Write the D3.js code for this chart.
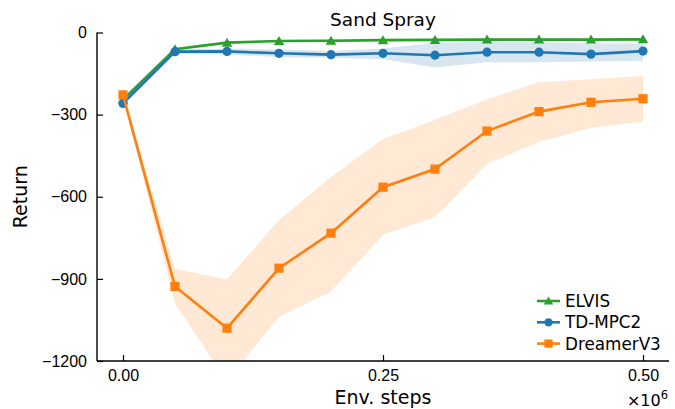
<!DOCTYPE html>
<html><head><meta charset="utf-8">
<script src="https://cdn.jsdelivr.net/npm/d3@7"></script>
<style>body{margin:0;background:#fff}svg{font-family:"DejaVu Sans",sans-serif}</style>
</head><body><svg id="c" width="675" height="409"></svg>
<script>
const steps = [0, 0.05e6, 0.1e6, 0.15e6, 0.2e6, 0.25e6, 0.3e6, 0.35e6, 0.4e6, 0.45e6, 0.5e6];
const elvisMean = [-245, -61, -37, -31, -30, -28, -27, -26, -26, -26, -25];
const elvisLo   = [-252, -66, -42, -35, -34, -32, -31, -30, -30, -30, -29];
const elvisHi   = [-238, -56, -32, -27, -26, -24, -23, -22, -22, -22, -21];
const tdMean = [-259, -70, -69, -76, -81, -76, -83, -72, -72, -79, -68];
const tdLo   = [-268, -78, -80, -90, -92, -98, -128, -109, -109, -106, -103];
const tdHi   = [-250, -62, -58, -62, -68, -58, -37, -34, -36, -40, -40];
const dvMean = [-228, -928, -1080, -861, -733, -565, -499, -360, -289, -255, -242];
const dvLo   = [-236, -990, -1275, -1038, -945, -740, -674, -480, -400, -348, -326];
const dvHi   = [-220, -863, -902, -685, -528, -389, -320, -244, -182, -171, -159];
const yTicks = [0, -300, -600, -900, -1200];
const xTicks = [0, 0.25e6, 0.5e6];
const xTickLabels = ["0.00", "0.25", "0.50"];

const svg = d3.select("#c");
const L = 97, R = 669, T = 32.5, B = 361;
const x = d3.scaleLinear().domain([-0.025e6, 0.525e6]).range([L, R]);
const y = d3.scaleLinear().domain([-1200, 0]).range([B, T]);

svg.append("defs").append("clipPath").attr("id","clip")
  .append("rect").attr("x",L).attr("y",T-10).attr("width",R-L).attr("height",B-T+10);

const series = [
  {name:"ELVIS", color:"#2ca02c", mean:elvisMean, lo:elvisLo, hi:elvisHi, marker:"tri"},
  {name:"TD-MPC2", color:"#1f77b4", mean:tdMean, lo:tdLo, hi:tdHi, marker:"circ"},
  {name:"DreamerV3", color:"#ff7f0e", mean:dvMean, lo:dvLo, hi:dvHi, marker:"sq"}
];

const g = svg.append("g").attr("clip-path","url(#clip)");
series.forEach(s => {
  const area = d3.area().x((d,i)=>x(steps[i])).y0((d,i)=>y(s.lo[i])).y1((d,i)=>y(s.hi[i]));
  g.append("path").datum(s.mean).attr("d", area).attr("fill", s.color).attr("fill-opacity", 0.18);
});

function drawMarker(sel, type, cx, cy, color, scale=1) {
  if (type === "tri") {
    const r = 5*scale;
    sel.append("path").attr("d", `M${cx},${cy-r}L${cx+r*1.05},${cy+r*0.8}L${cx-r*1.05},${cy+r*0.8}Z`).attr("fill", color);
  } else if (type === "circ") {
    sel.append("circle").attr("cx",cx).attr("cy",cy).attr("r",4.6*scale).attr("fill",color);
  } else {
    const h = 4.6*scale;
    sel.append("rect").attr("x",cx-h).attr("y",cy-h).attr("width",2*h).attr("height",2*h).attr("fill",color);
  }
}

series.forEach(s => {
  const line = d3.line().x((d,i)=>x(steps[i])).y(d=>y(d));
  g.append("path").datum(s.mean).attr("d", line).attr("fill","none").attr("stroke", s.color).attr("stroke-width", 2.6);
  s.mean.forEach((v,i) => drawMarker(g, s.marker, x(steps[i]), y(v), s.color));
});

// axes
const yAxis = d3.axisLeft(y).tickValues(yTicks).tickSize(-6).tickPadding(10).tickFormat(d => d3.format("d")(d).replace("-", "\u2212"));
const ya = svg.append("g").attr("transform", `translate(${L},0)`).call(yAxis);
const xAxis = d3.axisBottom(x).tickValues(xTicks).tickSize(-6).tickPadding(9).tickFormat((d,i)=>xTickLabels[i]);
const xa = svg.append("g").attr("transform", `translate(0,${B})`).call(xAxis);
[ya, xa].forEach(a => {
  a.select(".domain").attr("stroke","#000").attr("stroke-width",1.4);
  a.selectAll(".tick line").attr("stroke","#000").attr("stroke-width",1.2);
  a.selectAll(".tick text").attr("fill","#000").style("font-size","16px");
});
ya.select(".domain").attr("d", `M0,${T}V${B}`);
xa.select(".domain").attr("d", `M${L},0H${R}`);

svg.append("text").attr("x", (L+R)/2).attr("y", 26).attr("text-anchor","middle").style("font-size","18.5px").text("Sand Spray");
svg.append("text").attr("x", (L+R)/2).attr("y", 404).attr("text-anchor","middle").style("font-size","19px").text("Env. steps");
svg.append("text").attr("transform", `translate(27,${(T+B)/2}) rotate(-90)`).attr("text-anchor","middle").style("font-size","19px").text("Return");
const mult = svg.append("text").attr("x", 668).attr("y", 406).attr("text-anchor","end").style("font-size","16px");
mult.append("tspan").text("\u00d710");
mult.append("tspan").attr("dy", -7).style("font-size","11.5px").text("6");

// legend
const lg = svg.append("g");
series.forEach((s,i) => {
  const ly = 301 + i*21.3;
  lg.append("line").attr("x1",537).attr("x2",560).attr("y1",ly).attr("y2",ly).attr("stroke",s.color).attr("stroke-width",2.6);
  drawMarker(lg, s.marker, 548.5, ly, s.color, 0.9);
  lg.append("text").attr("x",565).attr("y",ly+6).style("font-size","16.8px").text(s.name);
});
</script></body></html>
